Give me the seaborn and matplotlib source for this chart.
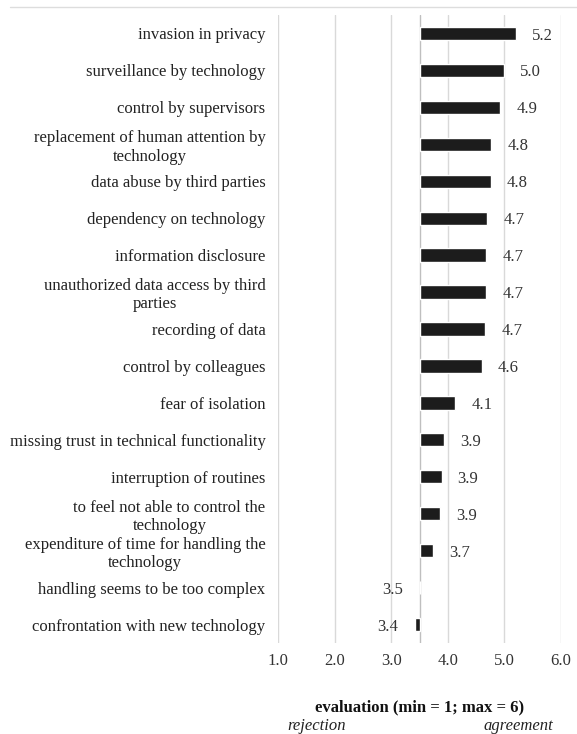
import numpy as np
import pandas as pd
import matplotlib
matplotlib.use("Agg")
import matplotlib.pyplot as plt
from matplotlib.lines import Line2D
import seaborn as sns

categories = [
    "invasion in privacy",
    "surveillance by technology",
    "control by supervisors",
    "replacement of human attention by\ntechnology",
    "data abuse by third parties",
    "dependency on technology",
    "information disclosure",
    "unauthorized data access by third\nparties",
    "recording of data",
    "control by colleagues",
    "fear of isolation",
    "missing trust in technical functionality",
    "interruption of routines",
    "to feel not able to control the\ntechnology",
    "expenditure of time for handling the\ntechnology",
    "handling seems to be too complex",
    "confrontation with new technology",
]
values = [5.21, 4.99, 4.93, 4.77, 4.76, 4.70, 4.68, 4.68, 4.66, 4.60,
          4.13, 3.93, 3.89, 3.87, 3.74, 3.50, 3.42]
midpoint = 3.5
xticks = [1.0, 2.0, 3.0, 4.0, 5.0, 6.0]
xlabel = "evaluation (min = 1; max = 6)"
left_note = "rejection"
right_note = "agreement"

sns.set_theme(style="white")
plt.rcParams["font.family"] = ["Liberation Serif", "DejaVu Serif"]

FS = 12

df = pd.DataFrame({"category": categories,
                   "value": values,
                   "delta": [v - midpoint for v in values]})

W, H = 577, 734
fig = plt.figure(figsize=(W / 100, H / 100), dpi=100)
fig.patch.set_facecolor("white")
ax = fig.add_axes([278 / W, 1 - 643 / H, (561 - 278) / W, (643 - 15) / H])

sns.barplot(data=df, y="category", x="delta", orient="h", color="#1c1c1c",
            saturation=1, width=0.36, left=midpoint, ax=ax, zorder=3)

ax.set_xlim(1, 6)
ax.set_ylim(len(categories) - 0.5, -0.5)
ax.set_xticks(xticks)
ax.set_xticklabels([f"{t:.1f}" for t in xticks], fontsize=FS, color="#333333")
ax.set_yticks(range(len(categories)))
ax.set_yticklabels(categories, fontsize=FS, color="#222222",
                   multialignment="center")
ax.tick_params(axis="both", length=0)
ax.tick_params(axis="x", pad=7.5)
ax.tick_params(axis="y", pad=9)
ax.set_xlabel("")
ax.set_ylabel("")
for s in ax.spines.values():
    s.set_visible(False)
for t in xticks:
    ax.axvline(t, color="#d9d9d9", lw=1.0, zorder=0)
ax.axvline(midpoint, color="#bfbfbf", lw=1.0, zorder=1)

for i, v in enumerate(values):
    d = v - midpoint
    if d > 0:
        ax.annotate(f"{v:.1f}", xy=(v, i), xytext=(11.5, -1.5),
                    textcoords="offset points", ha="left", va="center",
                    fontsize=FS, color="#333333")
    else:
        ax.annotate(f"{v:.1f}", xy=(min(v, midpoint), i), xytext=(-12, -1.5),
                    textcoords="offset points", ha="right", va="center",
                    fontsize=FS, color="#333333")

fig.text(419.5 / W, 1 - 707 / H, xlabel, ha="center", va="center",
         fontsize=FS, fontweight="bold", color="#111111")
fig.text(317 / W, 1 - 726 / H, left_note, ha="center", va="center",
         fontsize=FS, style="italic", color="#222222")
fig.text(518 / W, 1 - 726 / H, right_note, ha="center", va="center",
         fontsize=FS, style="italic", color="#222222")

fig.add_artist(Line2D([10 / W, 1.0], [1 - 7 / H, 1 - 7 / H],
                      transform=fig.transFigure, color="#dddddd", lw=1))

fig.savefig("out.png", dpi=100, facecolor="white")
